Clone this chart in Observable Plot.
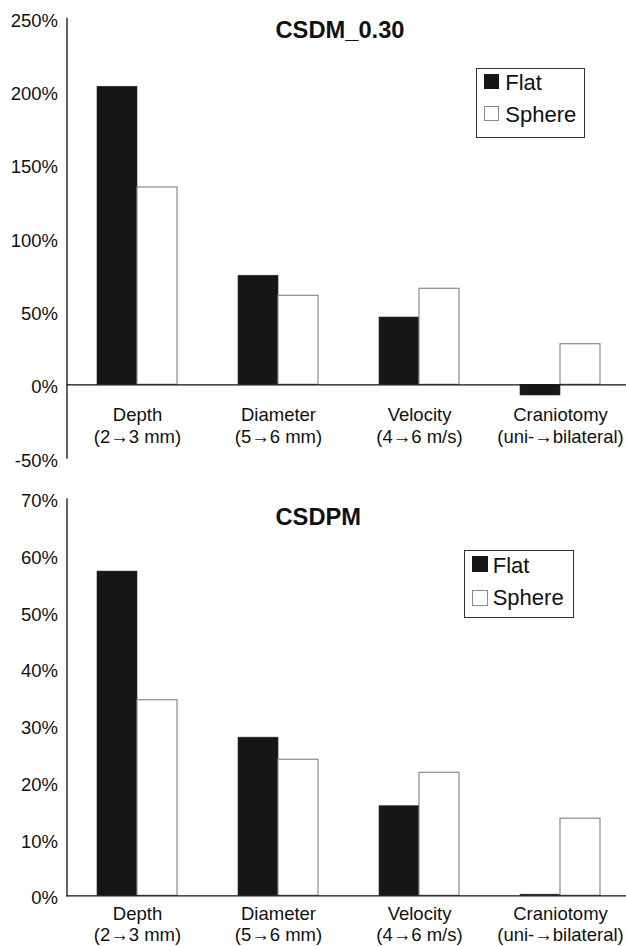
<!DOCTYPE html>
<html>
<head>
<meta charset="utf-8">
<script src="https://cdn.jsdelivr.net/npm/d3@7"></script>
<script src="https://cdn.jsdelivr.net/npm/@observablehq/plot@0.6"></script>
<style>
  html, body { margin: 0; padding: 0; background: #fff; }
  body { font-family: "Liberation Sans", Arial, Helvetica, sans-serif; color: #111; }
  #wrap { position: relative; width: 626px; height: 946px; overflow: hidden; }
  .panel { position: absolute; left: 0; width: 626px; }
  .panel svg { display: block; overflow: visible; }
  .lg-box { position: absolute; border: 1.3px solid #333; box-sizing: border-box; }
  .sw { position: absolute; box-sizing: border-box; }
  .lg-txt { position: absolute; font-size: 22px; line-height: 22px; white-space: nowrap; color: #111; }
</style>
</head>
<body>
<div id="wrap"></div>
<script>
// ---------- data ----------
const categories = ["Depth", "Diameter", "Velocity", "Craniotomy"];
const categorySubLabels = ["(2\u21923 mm)", "(5\u21926 mm)", "(4\u21926 m/s)", "(uni-\u2192bilateral)"];
const seriesNames = ["Flat", "Sphere"];

const csdmTitle = "CSDM_0.30";
const csdmFlat = [203.3, 74.4, 45.9, -7.3];
const csdmSphere = [134.6, 60.7, 65.5, 27.7];
const csdmTicks = [-50, 0, 50, 100, 150, 200, 250];

const csdpmTitle = "CSDPM";
const csdpmFlat = [57.2, 27.9, 15.8, 0.2];
const csdpmSphere = [34.5, 24.0, 21.7, 13.6];
const csdpmTicks = [0, 10, 20, 30, 40, 50, 60, 70];

// ---------- drawing ----------
const wrap = document.getElementById("wrap");

function makePanel(cfg) {
  const rows = categories.map((c, i) => ({
    category: c,
    label: c + "\n" + categorySubLabels[i],
    flat: cfg.flat[i],
    sphere: cfg.sphere[i]
  }));
  const ticks = cfg.ticks;
  const chart = Plot.plot({
    width: 626,
    height: cfg.height,
    marginLeft: 66.5,
    marginRight: -4.5,
    marginTop: cfg.marginTop,
    marginBottom: cfg.marginBottom,
    style: { fontFamily: "'Liberation Sans', Arial, sans-serif", color: "#111", background: "transparent", overflow: "visible" },
    x: { type: "band", domain: categories, paddingInner: 0.433, paddingOuter: 0.2165, axis: null },
    y: { domain: [ticks[0], ticks[ticks.length - 1]], axis: null },
    marks: [
      Plot.barY(rows, { x: "category", y: "flat", fill: "#161616", stroke: "#2a2a2a", strokeWidth: 0.6, insetRight: 40 }),
      Plot.barY(rows, { x: "category", y: "sphere", fill: "#ffffff", stroke: "#8a8a8a", strokeWidth: 1.2, insetLeft: 40 }),
      Plot.ruleY([0], { stroke: "#111", strokeWidth: 1.3 }),
      Plot.frame({ anchor: "left", stroke: "#111", strokeWidth: 1.3 }),
      Plot.axisY({ ticks: ticks, tickSize: 0, tickPadding: 9, tickFormat: d => d + "%", fontSize: 18.5, dy: 2.5 }),
      Plot.text(rows, { x: "category", y: 0, text: "label", lineAnchor: "top", dy: cfg.labelDy, fontSize: 18.5, lineHeight: 1.16, fill: "#111" }),
      Plot.text([cfg.title], { frameAnchor: "top-left", textAnchor: "start", lineAnchor: "top", dx: 208.5, dy: cfg.titleDy, fontSize: 23.7, fontWeight: "bold", fill: "#111" })
    ]
  });
  const div = document.createElement("div");
  div.className = "panel";
  div.style.top = cfg.top + "px";
  div.style.height = cfg.height + "px";
  div.appendChild(chart);
  wrap.appendChild(div);

  // legend (HTML overlay)
  const L = cfg.legend;
  const box = document.createElement("div");
  box.className = "lg-box";
  Object.assign(box.style, { left: L.left + "px", top: L.top + "px", width: L.w + "px", height: L.h + "px" });
  wrap.appendChild(box);
  seriesNames.forEach((name, i) => {
    const sw = document.createElement("div");
    sw.className = "sw";
    Object.assign(sw.style, {
      left: L.swLeft + "px", top: L.swTops[i] + "px", width: L.sw + "px", height: L.sw + "px",
      background: i === 0 ? "#161616" : "#fff",
      border: i === 0 ? "none" : "1px solid #8a8a8a"
    });
    wrap.appendChild(sw);
    const t = document.createElement("div");
    t.className = "lg-txt";
    t.textContent = name;
    Object.assign(t.style, { left: L.txtLeft + "px", top: L.txtTops[i] + "px" });
    wrap.appendChild(t);
  });
}

makePanel({
  title: csdmTitle, flat: csdmFlat, sphere: csdmSphere, ticks: csdmTicks,
  top: 0, height: 472, marginTop: 17.8, marginBottom: 14.4,
  labelDy: 21.4, titleDy: 3,
  legend: { left: 475.7, top: 68.3, w: 109.6, h: 69.7, swLeft: 484, swTops: [74, 106], sw: 15, txtLeft: 505.3, txtTops: [72, 103.5] }
});
makePanel({
  title: csdpmTitle, flat: csdpmFlat, sphere: csdpmSphere, ticks: csdpmTicks,
  top: 472, height: 474, marginTop: 26.5, marginBottom: 50.7,
  labelDy: 9, titleDy: 9.2,
  legend: { left: 464, top: 549.7, w: 110, h: 68.3, swLeft: 471.7, swTops: [556.3, 589.7], sw: 16, txtLeft: 492.7, txtTops: [554.7, 587.3] }
});
</script>
</body>
</html>
